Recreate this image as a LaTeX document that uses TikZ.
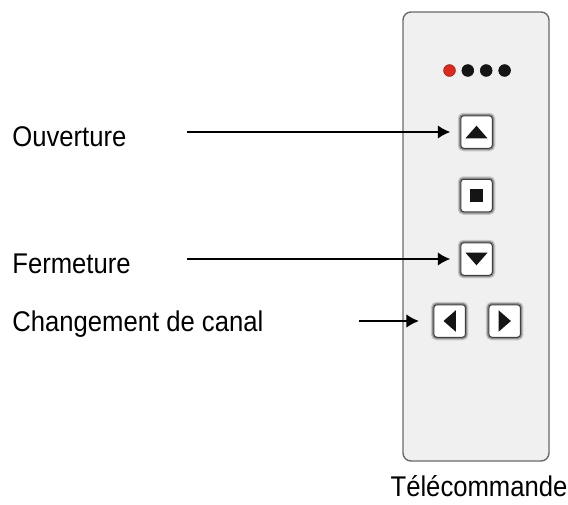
\documentclass[tikz,border=0pt]{standalone}
\usepackage{fontspec}
\setmainfont{Liberation Sans}[FakeStretch=0.9]
\usepackage{xcolor}
\usepackage{tikz}
\usetikzlibrary{arrows.meta}
\usetikzlibrary{calc}
\usetikzlibrary{positioning}

\definecolor{caseBg}{HTML}{F0F0F0}
\definecolor{caseLine}{HTML}{6A6A6A}
\definecolor{ledRed}{HTML}{DD2A1E}
\definecolor{ledBlack}{HTML}{151515}

\begin{document}
\begin{tikzpicture}[x=1pt,y=-1pt,>={Latex[length=12.5pt,width=13.5pt]},line width=1.7pt]
 				 \tikzstyle{remote}=[draw=caseLine, line width=1.4pt, fill=caseBg, rounded corners=8pt, minimum width=146pt, minimum height=449pt, inner sep=0pt]
 				 \tikzstyle{btn}=[draw=black!75, line width=1pt, fill=white, rounded corners=3pt, minimum width=31.5pt, minimum height=32.5pt, inner sep=0pt, preaction={draw=black!22, line width=6pt}, preaction={draw=black!45, line width=3.5pt}]
 				 \tikzstyle{lbl}=[anchor=base west, inner sep=0pt, font=\fontsize{28.5}{30}\selectfont]
 				 \tikzstyle{glyph}=[fill=ledBlack]
 				 \useasboundingbox (0,0) rectangle (568,504);
 					 % boitier
 					 \node[remote]  (tc)   at (476,236.5) {};
 					 \node[lbl, anchor=base] (tcl) at (479,496.5) {Télécommande};
 					 % voyants
 					 \foreach \x/\c in {449.5/ledRed,467.8/ledBlack,486.2/ledBlack,504.6/ledBlack}
 					 	\fill[\c, draw=\c!70!black, line width=0.6pt] (\x,70.5) circle (5.9);
 					 % boutons
 					 \node[btn]     (up)   at (476.5,132) {};
 					 \node[btn]     (stop) [below=30pt of up] {};
 					 \node[btn]     (down) [below=30pt of stop] {};
 					 \node[btn]     (left) at (449.7,321) {};
 					 \node[btn]     (right) [right=22.5pt of left] {};
 					 \fill[glyph] ([shift={(-11,6.3)}]up.center) -- ([shift={(11,6.3)}]up.center) -- ([shift={(0,-6.3)}]up.center) -- cycle;
 					 \fill[glyph] ([shift={(-6.3,-6.5)}]stop.center) rectangle ([shift={(6.3,6.5)}]stop.center);
 					 \fill[glyph] ([shift={(-11,-6.3)}]down.center) -- ([shift={(11,-6.3)}]down.center) -- ([shift={(0,6.3)}]down.center) -- cycle;
 					 \fill[glyph] ([shift={(6.2,-10.8)}]left.center) -- ([shift={(6.2,10.8)}]left.center) -- ([shift={(-6.2,0)}]left.center) -- cycle;
 					 \fill[glyph] ([shift={(-6.2,-10.8)}]right.center) -- ([shift={(-6.2,10.8)}]right.center) -- ([shift={(6.2,0)}]right.center) -- cycle;
 					 % legendes
 					 \node[lbl]     (ouv)  at (11.5,146) {Ouverture};
 					 \node[lbl]     (fer)  at (11.5,273) {Fermeture};
 					 \node[lbl]     (chg)  at (11.5,331.5) {Changement de canal};
 					 \coordinate    (ouvS) at (187,132);
 					 \coordinate    (ferS) at ($(ouvS|-down)$);
 					 \coordinate    (chgS) at (359,321);
 					 \path[->]
 					 		(ouvS) edge[shorten >=10pt] (up)
 					 		(ferS) edge[shorten >=10pt] (down)
 					 		(chgS) edge[shorten >=14.5pt] (left);
\end{tikzpicture}
\end{document}
